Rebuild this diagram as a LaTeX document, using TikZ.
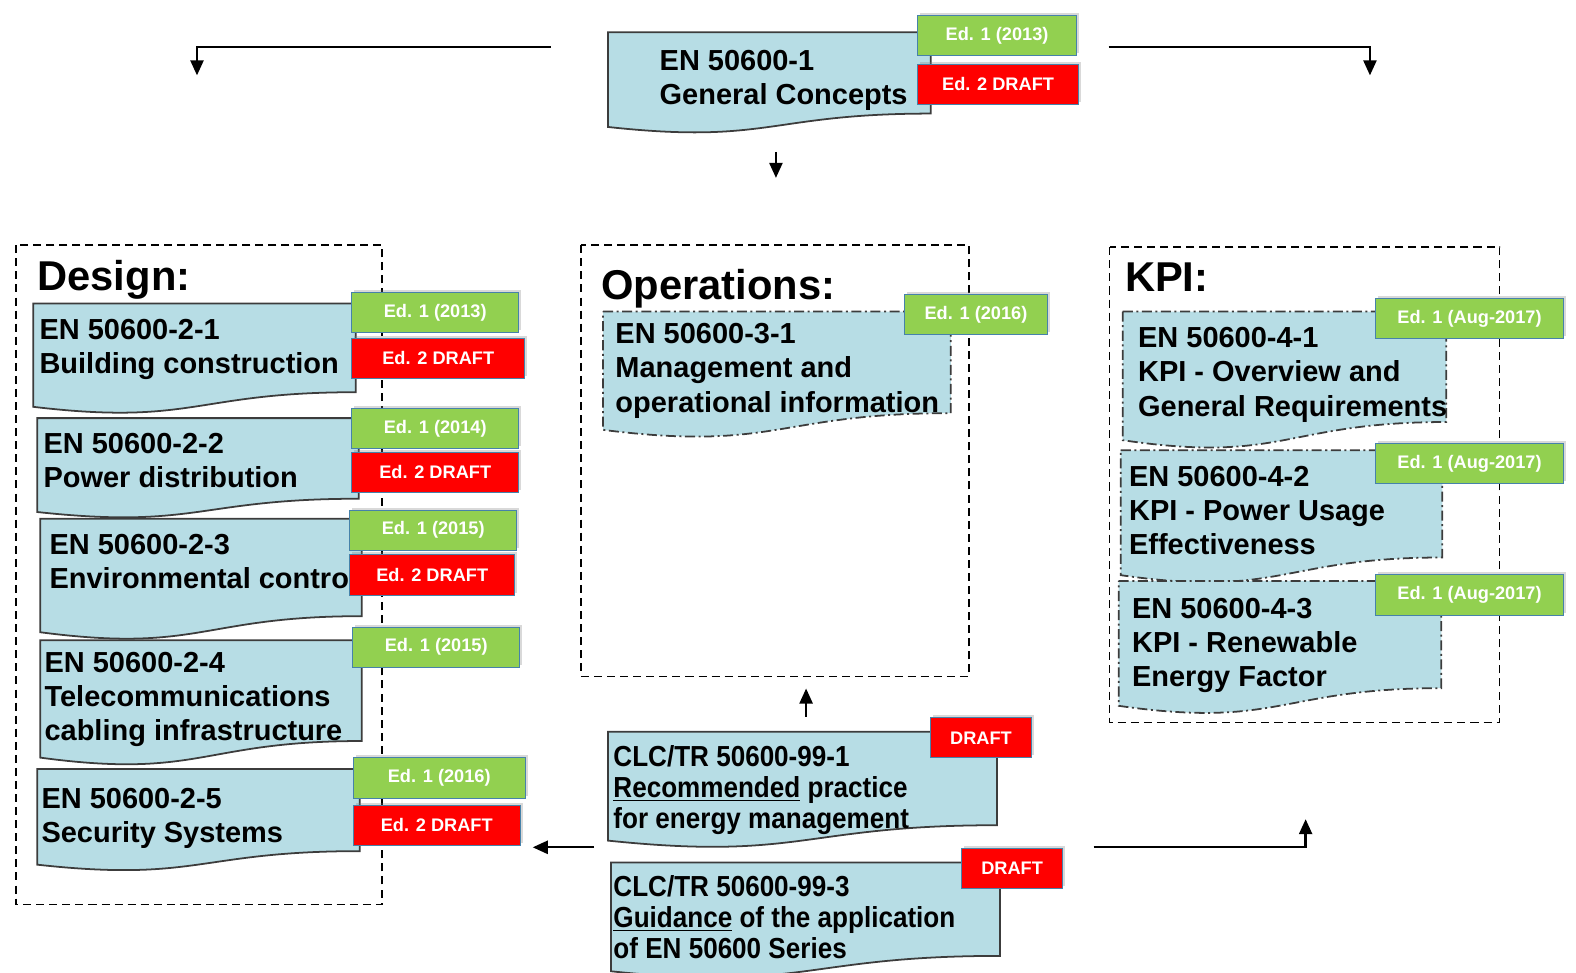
\documentclass[tikz,border=0pt]{standalone}
\usepackage{fontspec}
\setmainfont{Liberation Sans}
\newfontfamily\narrowsans[FakeStretch=0.9]{Liberation Sans}
\usetikzlibrary{arrows.meta,shadows}

\definecolor{docblue}{RGB}{183,221,229}
\definecolor{docline}{RGB}{60,60,60}
\definecolor{edgreen}{RGB}{146,208,80}
\definecolor{edred}{RGB}{255,0,0}
\definecolor{edline}{RGB}{70,130,170}

\tikzset{
  doc/.style={fill=docblue, draw=docline, line width=1pt},
  dashdoc/.style={doc, dash pattern=on 2mm off 0.7mm on 0.4mm off 0.7mm},
  group/.style={draw=black, line width=0.9pt, dash pattern=on 1.6mm off 1mm},
  heading/.style={inner sep=0pt, anchor=base west, font=\fontsize{23.6}{28}\selectfont\bfseries},
  doctext/.style={inner sep=0pt, anchor=base west, align=left, font=\fontsize{16.4}{19.35}\selectfont\bfseries},
  trtext/.style={doctext, font=\fontsize{16.4}{17.6}\selectfont\narrowsans\bfseries},
  edbox/.style={draw=edline, line width=0.6pt, text=white, inner sep=0pt,
    minimum height=8mm, minimum width=33.2mm, font=\fontsize{10.3}{12}\selectfont\bfseries,
    drop shadow={shadow xshift=0.5mm, shadow yshift=0.5mm, opacity=0.3}},
  edone/.style={edbox, fill=edgreen},
  edtwo/.style={edbox, fill=edred},
  link/.style={line width=1.3pt, -{Triangle[length=3mm,width=2.6mm]}}
}

% document shape: [style] x, y, width, height
\newcommand{\docshape}[5][]{%
  \filldraw[doc,#1] (#2,#3) -- ({#2+#4},#3) -- ({#2+#4},{#3+0.802*#5})
    .. controls ({#2+0.5*#4},{#3+0.802*#5}) and ({#2+0.5*#4},{#3+1.107*#5}) .. (#2,{#3+0.934*#5}) -- cycle;}

\begin{document}
\begin{tikzpicture}[x=0.2mm, y=-0.2mm]
	\useasboundingbox (0,0) rectangle (1568,968);

	% groups
	\draw[group] (16,244) rectangle (380,900);
	\draw[group] (578,244) rectangle (964,673);
	\draw[group] (1104,246) rectangle (1492,719);

	\node[heading] (design) at (37,289)   {Design:};
	\node[heading] (ops)    at (598,298)  {Operations:};
	\node[heading] (kpi)    at (1119,290) {KPI:};

	% documents
	\docshape{605}{32}{321}{101}
	\docshape{33}{302}{321}{110}
	\docshape{37}{416}{320}{100}
	\docshape{40}{516}{320}{121}
	\docshape{40}{637}{320}{125}
	\docshape{37}{765}{321}{102}
	\docshape[dashdoc]{600}{310}{346}{126}
	\docshape[dashdoc]{1117}{310}{322}{137}
	\docshape[dashdoc]{1115}{448}{320}{133}
	\docshape[dashdoc]{1113}{578}{321}{133}
	\docshape{605}{728}{387}{116}
	\docshape{608}{858}{387}{116}

	% text nodes sit on the baseline of their last line
	\node[doctext] (en1)  at (656,104)  {EN 50600-1\\General Concepts};
	\node[doctext] (en21) at (39,372)   {EN 50600-2-1\\Building construction};
	\node[doctext] (en22) at (43,485)   {EN 50600-2-2\\Power distribution};
	\node[doctext] (en23) at (49,586)   {EN 50600-2-3\\Environmental control};
	\node[doctext] (en24) at (44,737)   {EN 50600-2-4\\Telecommunications\\cabling infrastructure};
	\node[doctext] (en25) at (41,838)   {EN 50600-2-5\\Security Systems};
	\node[doctext] (en31) at (612,410)  {EN 50600-3-1\\Management and\\operational information};
	\node[doctext] (en41) at (1132,414) {EN 50600-4-1\\KPI - Overview and\\General Requirements};
	\node[doctext] (en42) at (1123,552) {EN 50600-4-2\\KPI - Power Usage\\Effectiveness};
	\node[doctext] (en43) at (1126,683) {EN 50600-4-3\\KPI - Renewable\\Energy Factor};
	\node[trtext]  (tr1)  at (610,824)  {CLC/TR 50600-99-1\\\underline{Recommended} practice\\for energy management};
	\node[trtext]  (tr3)  at (610,954)  {CLC/TR 50600-99-3\\\underline{Guidance} of the application\\of EN 50600 Series};

	% editions
	\node[edone, minimum width=31.6mm] (en1a)  at (992,35.5) {Ed. 1 (2013)};
	\node[edtwo, minimum width=32mm]   (en1b)  at (993,84)   {Ed. 2 DRAFT};
	\node[edone] (en21a) at (433,311)   {Ed. 1 (2013)};
	\node[edtwo, minimum width=34.4mm] (en21b) at (436,356.5) {Ed. 2 DRAFT};
	\node[edone] (en22a) at (433,426.5) {Ed. 1 (2014)};
	\node[edtwo] (en22b) at (433,470)   {Ed. 2 DRAFT};
	\node[edone] (en23a) at (431,527.5) {Ed. 1 (2015)};
	\node[edtwo, minimum width=32.8mm] (en23b) at (430,572) {Ed. 2 DRAFT};
	\node[edone] (en24a) at (434,644)   {Ed. 1 (2015)};
	\node[edone, minimum width=34.2mm] (en25a) at (437,774) {Ed. 1 (2016)};
	\node[edtwo] (en25b) at (434.5,821) {Ed. 2 DRAFT};
	\node[edone, minimum width=28.4mm] (en31a) at (971,313)   {Ed. 1 (2016)};
	\node[edone, minimum width=37.4mm] (en41a) at (1462,317)  {Ed. 1 (Aug-2017)};
	\node[edone, minimum width=37.4mm] (en42a) at (1462,461.5){Ed. 1 (Aug-2017)};
	\node[edone, minimum width=37.4mm] (en43a) at (1462,592)  {Ed. 1 (Aug-2017)};
	\node[edtwo, minimum width=20mm]   (tr1a)  at (976,734)   {DRAFT};
	\node[edtwo, minimum width=20mm]   (tr3a)  at (1007,864)  {DRAFT};

	% arrows
	\coordinate (tl1) at (548,47);
	\coordinate (tl2) at (196,75);
	\coordinate (tr1s) at (1103,47);
	\coordinate (tr2s) at (1363,75);
	\coordinate (c1) at (772,151);
	\coordinate (c2) at (772,177);
	\coordinate (u1) at (802,713);
	\coordinate (u2) at (802,685);
	\coordinate (l1) at (591,843);
	\coordinate (l2) at (530,843);
	\coordinate (r1) at (1088,843);
	\coordinate (r2) at (1299,815);

	\draw[link] (tl1) -| (tl2);
	\draw[link] (tr1s) -| (tr2s);
	\draw[link] (c1) -- (c2);
	\draw[link] (u1) -- (u2);
	\draw[link] (l1) -- (l2);
	\draw[link] (r1) -| (r2);

\end{tikzpicture}
\end{document}
